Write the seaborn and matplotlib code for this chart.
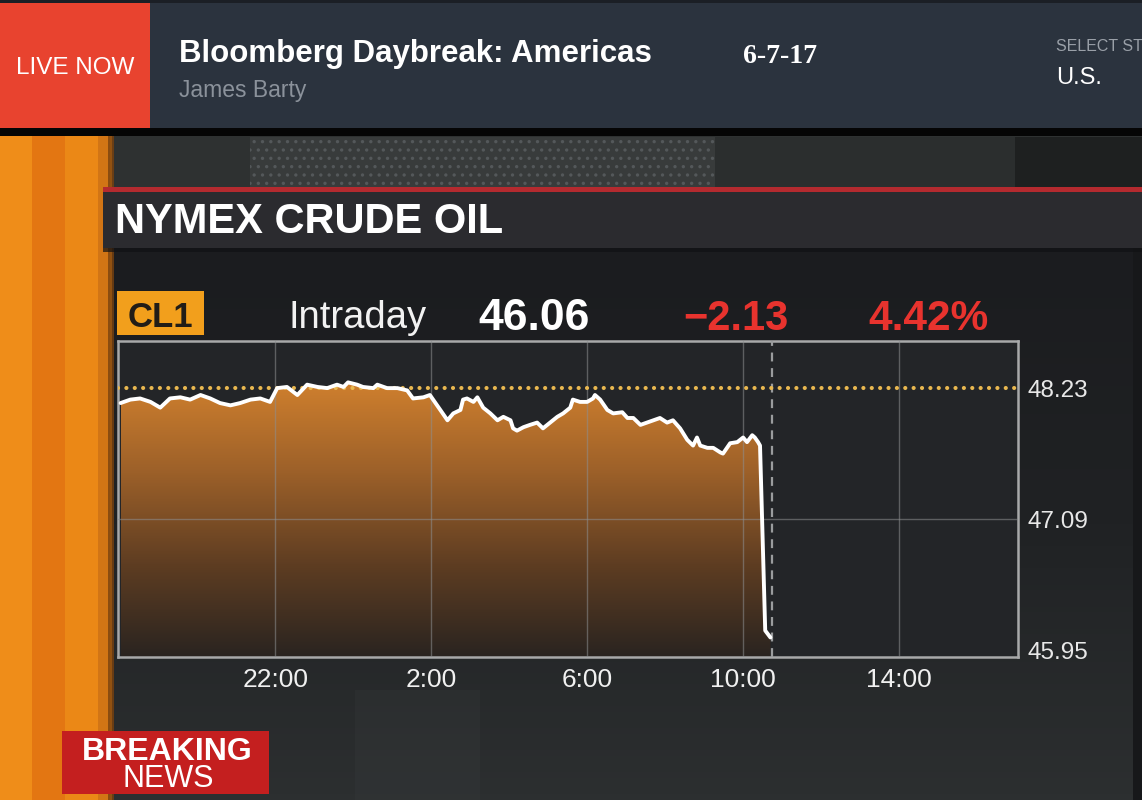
import numpy as np
import pandas as pd
import matplotlib.pyplot as plt
import matplotlib.patches as mpatches
from matplotlib.colors import LinearSegmentedColormap
import seaborn as sns

# CL1 intraday quotes, minutes after 18:00 (session of 6-7-17)
minutes = [2, 17, 32, 48, 63, 78, 94, 109, 125, 140,
           155, 171, 186, 202, 217, 232, 243, 258, 274, 289,
           305, 320, 335, 345, 352, 366, 375, 391, 397, 412,
           428, 443, 452, 468, 478, 494, 505, 514, 525, 529,
           535, 545, 551, 560, 571, 582, 591, 602, 606, 612,
           622, 632, 643, 652, 663, 674, 683, 694, 698, 709,
           720, 729, 732, 740, 751, 760, 774, 782, 791, 802,
           812, 822, 832, 843, 852, 863, 874, 883, 889, 894,
           905, 914, 925, 929, 940, 951, 960, 966, 974, 978,
           983, 986, 994, 1002]
prices = [48.10, 48.13, 48.14, 48.11, 48.06, 48.14, 48.15, 48.13, 48.17, 48.14,
          48.10, 48.08, 48.10, 48.13, 48.14, 48.11, 48.23, 48.24, 48.17, 48.26,
          48.24, 48.23, 48.26, 48.24, 48.28, 48.26, 48.24, 48.23, 48.26, 48.23,
          48.23, 48.21, 48.14, 48.15, 48.17, 48.04, 47.95, 48.01, 48.04, 48.13,
          48.14, 48.11, 48.15, 48.06, 48.01, 47.95, 47.98, 47.95, 47.88, 47.86,
          47.89, 47.91, 47.93, 47.88, 47.93, 47.98, 48.01, 48.06, 48.13, 48.11,
          48.11, 48.14, 48.17, 48.13, 48.04, 48.01, 48.02, 47.97, 47.97, 47.91,
          47.93, 47.95, 47.97, 47.93, 47.95, 47.88, 47.78, 47.73, 47.80, 47.73,
          47.71, 47.71, 47.67, 47.66, 47.75, 47.76, 47.80, 47.76, 47.82, 47.80,
          47.76, 47.73, 46.12, 46.06]

xtick_pos = [240, 480, 720, 960, 1200]
xtick_labels = ["22:00", "2:00", "6:00", "10:00", "14:00"]
ytick_vals = [48.23, 47.09, 45.95]
prev_close = 48.23
now_minute = 1005

ticker = "CL1"
last_price = "46.06"
net_change = "\u22122.13"
pct_change = "4.42%"

df = pd.DataFrame({"minute": minutes, "price": prices})

sns.set_theme(style="dark")
plt.rcParams['font.family'] = ['Liberation Sans', 'DejaVu Sans']
plt.rcParams['hatch.linewidth'] = 1.2

fig = plt.figure(figsize=(11.42, 8), dpi=100)
fig.patch.set_facecolor('#1c1d20')

# background "screen" drawn in pixel coordinates
bg = fig.add_axes([0, 0, 1, 1])
bg.axis('off')


def box(x, y, w, h, c, **kw):
    kw.setdefault('edgecolor', 'none')
    bg.add_patch(mpatches.Rectangle((x, y), w, h, facecolor=c, **kw))


panel_cmap = LinearSegmentedColormap.from_list('panel', ['#2c2f30', '#202224', '#1b1c1f'])
bg.imshow(np.linspace(0, 1, 100).reshape(-1, 1), extent=[112, 1142, 800, 248],
          origin='lower', aspect='auto', cmap=panel_cmap, zorder=0)
box(355, 690, 125, 110, '#45484a', alpha=0.15)
box(1133, 248, 9, 552, '#17181a')

# strip above the panel
box(112, 135, 1030, 55, '#2e3131')
box(250, 137, 465, 51, '#383b3b', hatch='..', edgecolor='#54585a', lw=0)
box(715, 137, 300, 51, '#2b2e2e')
box(1015, 137, 127, 51, '#1e2020')

# orange left strip
box(0, 135, 112, 665, '#ef8d19')
box(32, 135, 33, 665, '#e37612')
box(65, 135, 33, 665, '#eb8816')
box(98, 135, 12, 665, '#d27515')
box(108, 135, 6, 665, '#7a420f', alpha=0.8)

# title bar
box(103, 187, 1039, 5, '#b42a2f')
box(103, 192, 1039, 56, '#2b2b2f')
box(103, 248, 1039, 4, '#111214', alpha=0.7)

# header bar
box(0, 0, 1142, 130, '#2b333e')
box(0, 0, 1142, 3, '#1b1f25')
box(0, 128, 1142, 8, '#050505')
box(0, 3, 150, 125, '#e8432f')

# ticker box and breaking news box
box(117, 291, 87, 44, '#f29f1c')
box(62, 731, 207, 63, '#c41f1f')

bg.set_xlim(0, 1142)
bg.set_ylim(800, 0)

bg.text(75, 74, "LIVE NOW", color='white', fontsize=17.5, ha='center', va='baseline')
bg.text(179, 62, "Bloomberg Daybreak: Americas", color='white', fontsize=22.5,
        weight='bold', ha='left', va='baseline')
bg.text(179, 97, "James Barty", color='#8b929b', fontsize=16.5, ha='left', va='baseline')
bg.text(743, 63, "6-7-17", color='white', fontsize=20, weight='bold',
        family=['Liberation Serif', 'DejaVu Serif'], ha='left', va='baseline')
bg.text(1056, 51, "SELECT ST", color='#9aa0a8', fontsize=11.5, ha='left', va='baseline')
bg.text(1056, 84, "U.S.", color='white', fontsize=17, ha='left', va='baseline')

bg.text(115, 233, "NYMEX CRUDE OIL", color='white', fontsize=30, weight='bold',
        ha='left', va='baseline')
bg.text(160, 327, ticker, color='#221d17', fontsize=25, weight='bold', ha='center', va='baseline')
bg.text(289, 328, "Intraday", color='#f2f2f2', fontsize=27.5, ha='left', va='baseline')
bg.text(478, 330, last_price, color='white', fontsize=32, weight='bold', ha='left', va='baseline')
bg.text(683, 330, net_change, color='#e8332e', fontsize=30, weight='bold', ha='left', va='baseline')
bg.text(868, 330, pct_change, color='#e8332e', fontsize=30.5, weight='bold', ha='left', va='baseline')

bg.text(167, 760, "BREAKING", color='white', fontsize=23, weight='bold', ha='center', va='baseline')
bg.text(168, 787, "NEWS", color='white', fontsize=22, ha='center', va='baseline')

# the intraday chart
ax = fig.add_axes([118 / 1142, 143 / 800, 900 / 1142, 316 / 800])
ax.set_facecolor('#232528')

y_lo, y_hi = 45.89, 48.64
fill_cmap = LinearSegmentedColormap.from_list('oil', ['#2a2420', '#5e3d22', '#9c6029', '#d0802e'])
im = ax.imshow(np.linspace(0, 1, 256).reshape(-1, 1),
               extent=[minutes[0], minutes[-1], y_lo, 48.30],
               origin='lower', aspect='auto', cmap=fill_cmap, zorder=2)
poly = ax.fill_between(df['minute'], df['price'], y_lo, facecolor='none', edgecolor='none')
im.set_clip_path(poly.get_paths()[0], transform=ax.transData)

for xp in xtick_pos:
    ax.axvline(xp, color='#8d8f91', lw=1, alpha=0.55, zorder=3)
ax.axhline(ytick_vals[1], color='#8d8f91', lw=1, alpha=0.55, zorder=3)
ax.axhline(prev_close, color='#e9b850', lw=3, linestyle=(0, (0.01, 2.0)),
           dash_capstyle='round', zorder=3.5)
ax.axvline(now_minute, color='#9a9c9e', lw=1.6, linestyle=(0, (4, 3)), zorder=3)

sns.lineplot(data=df, x='minute', y='price', color='white', lw=2.8, ax=ax, zorder=4)

ax.set_xlim(-2, 1383)
ax.set_ylim(y_lo, y_hi)
ax.set_xticks(xtick_pos, xtick_labels)
ax.yaxis.tick_right()
ax.set_yticks(ytick_vals, [f"{v:.2f}" for v in ytick_vals])
ax.tick_params(axis='x', length=0, labelsize=19, pad=8, labelcolor='#f0f0f0')
ax.tick_params(axis='y', length=0, labelsize=17.5, pad=7, labelcolor='#e8e8e8')
ax.set_xlabel('')
ax.set_ylabel('')
ax.grid(False)
for s in ax.spines.values():
    s.set_visible(True)
    s.set_color('#a8a9aa')
    s.set_linewidth(1.8)

fig.savefig("out.png", dpi=100)
